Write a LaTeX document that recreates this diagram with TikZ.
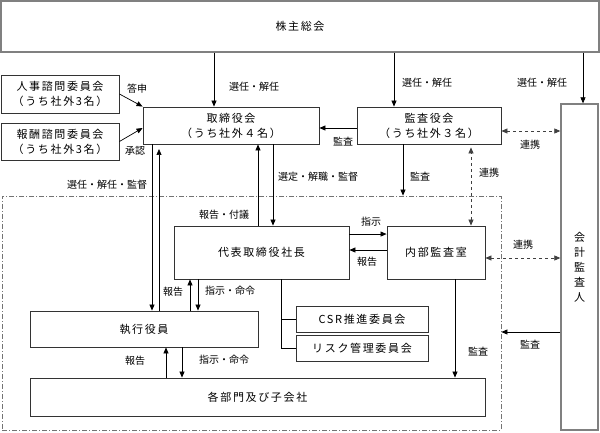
\documentclass[tikz,border=0pt]{standalone}
\usepackage{fontspec}
\setmainfont{Noto Sans CJK JP}
\newfontfamily\boxfont[LetterSpace=15]{Noto Sans CJK JP}
\usetikzlibrary{arrows.meta}
\begin{document}
\begin{tikzpicture}[x=1pt,y=-1pt,
  box/.style={draw=black!80,fill=white,line width=0.9pt,inner sep=0pt,align=center,font=\boxfont\fontsize{11}{15}\selectfont},
  graybox/.style={box,draw=black!50,line width=1.3pt},
  region/.style={draw=black!55,line width=0.8pt,dash pattern=on 5pt off 2pt on 1pt off 2pt,inner sep=0pt},
  lbl/.style={font=\fontsize{10}{12}\selectfont,inner sep=0pt},
  arr/.style={-{Triangle[length=6pt,width=5pt]},line width=0.7pt},
  darr/.style={{Triangle[length=6pt,width=5pt]}-{Triangle[length=6pt,width=5pt]},line width=0.7pt,draw=black!75,dash pattern=on 3pt off 3pt},
  ln/.style={line width=0.7pt}]
\fill[white] (0,0) rectangle (600,433);
\useasboundingbox (0,0) rectangle (600,433);

% group region
\node[region,minimum width=499,minimum height=234] (grp) at (251.5,313) {};

% boxes
\node[graybox,minimum width=598,minimum height=51] (kabu) at (300,26.5) {株主総会};
\node[box,minimum width=118,minimum height=38] (jinji) at (60,94) {人事諮問委員会\\（うち社外3名）};
\node[box,minimum width=118,minimum height=37] (hoshu) at (60,141.5) {報酬諮問委員会\\（うち社外3名）};
\node[box,minimum width=176,minimum height=37] (tori) at (231,125.5) {取締役会\\（うち社外４名）};
\node[box,minimum width=144,minimum height=37] (kansa) at (429,125.5) {監査役会\\（うち社外３名）};
\node[graybox,minimum width=37,minimum height=326] (kaikei) at (579.5,267) {会\\計\\監\\査\\人};
\node[box,minimum width=175,minimum height=53] (daihyo) at (261.5,252.5) {代表取締役社長};
\node[box,minimum width=98,minimum height=53] (naibu) at (436,252.5) {内部監査室};
\node[box,minimum width=132,minimum height=26] (csr) at (362,319) {CSR推進委員会};
\node[box,minimum width=132,minimum height=26] (risk) at (362,348) {リスク管理委員会};
\node[box,minimum width=228,minimum height=36] (shikko) at (144,329) {執行役員};
\node[box,minimum width=455,minimum height=38] (kakubu) at (257.5,397) {各部門及び子会社};

% helper x positions
\coordinate (c214) at (214,0);
\coordinate (c394) at (394,0);
\coordinate (c583) at (583,0);
\coordinate (c403) at (403,0);
\coordinate (c471) at (471,0);
\coordinate (c152) at (152,0);
\coordinate (c159) at (159,0);
\coordinate (c258) at (258,0);
\coordinate (c273) at (273,0);
\coordinate (c190) at (190,0);
\coordinate (c198) at (198,0);
\coordinate (c166) at (166,0);
\coordinate (c182) at (182,0);
\coordinate (c455) at (455,0);
\coordinate (c281) at (281,0);
\coordinate (y332) at (0,332);
\coordinate (tup) at (159,149);

% shareholders
\draw[arr] (c214 |- kabu.south) -- (c214 |- tori.north);
\draw[arr] (c394 |- kabu.south) -- (c394 |- kansa.north);
\draw[arr] (c583 |- kabu.south) -- (c583 |- kaikei.north);
\node[lbl] (l1) at (254,87) {選任・解任};
\node[lbl] (l2) at (427,83) {選任・解任};
\node[lbl] (l3) at (542,83) {選任・解任};

% committees
\draw[arr] (jinji.east) -- (tori.north west);
\draw[arr] (hoshu.east) -- ([yshift=-2.5pt]tori.west);
\node[lbl] (l4) at (137,89) {答申};
\node[lbl] (l5) at (135,151) {承認};

% kansa
\draw[arr] ([yshift=-2.5pt]kansa.west) -- ([yshift=-2.5pt]tori.east);
\node[lbl] (l6) at (343,142) {監査};
\coordinate (k7) at ([yshift=-5.5pt]kansa.east);
\draw[darr] (k7) -- (k7 -| kaikei.west);
\node[lbl] (l7) at (530,145) {連携};
\draw[arr] (c403 |- kansa.south) -- (c403 |- grp.north);
\node[lbl] (l8) at (420,177) {監査};
\draw[darr] (c471 |- naibu.north) -- ([yshift=-3pt]c471 |- kansa.south);
\node[lbl] (l9) at (489,173) {連携};

% board <-> executives
\draw[arr] (c152 |- tori.south) -- (c152 |- shikko.north);
\draw[arr] (c159 |- shikko.north) -- (tup);
\node[lbl] (l10) at (107,185) {選任・解任・監督};
\draw[arr] (c258 |- daihyo.north) -- (c258 |- tori.south);
\node[lbl] (l11) at (224,215) {報告・付議};
\draw[arr] (c273 |- tori.south) -- (c273 |- daihyo.north);
\node[lbl] (l12) at (318,177) {選定・解職・監督};

% president <-> internal audit
\draw[arr] ([yshift=-8.5pt]daihyo.north east) -- ([yshift=-8.5pt]naibu.north west);
\node[lbl] (l13) at (371,222) {指示};
\draw[arr] ([yshift=2.5pt]naibu.west) -- ([yshift=2.5pt]daihyo.east);
\node[lbl] (l14) at (367,262) {報告};
\coordinate (k16) at ([yshift=-5.5pt]naibu.east);
\draw[darr] (k16) -- (k16 -| kaikei.west);
\node[lbl] (l15) at (523,245) {連携};

% president <-> executives
\draw[arr] (c190 |- shikko.north) -- (c190 |- daihyo.south);
\draw[arr] (c198 |- daihyo.south) -- (c198 |- shikko.north);
\node[lbl] (l16) at (173,292) {報告};
\node[lbl] (l17) at (230,291) {指示・命令};

% executives <-> departments
\draw[arr] (c166 |- kakubu.north) -- (c166 |- shikko.south);
\draw[arr] (c182 |- shikko.south) -- (c182 |- kakubu.north);
\node[lbl] (l18) at (135,361) {報告};
\node[lbl] (l19) at (224,360) {指示・命令};

% internal audit -> departments
\draw[arr] (c455 |- naibu.south) -- (c455 |- kakubu.north);
\node[lbl] (l20) at (478,352) {監査};

% auditor -> group
\draw[arr] (kaikei.west |- y332) -- (grp.east |- y332);
\node[lbl] (l21) at (530,345) {監査};

% committees tree
\draw[ln] (c281 |- daihyo.south) |- (risk.west);
\draw[ln] (c281 |- csr.west) -- (csr.west);
\end{tikzpicture}
\end{document}
